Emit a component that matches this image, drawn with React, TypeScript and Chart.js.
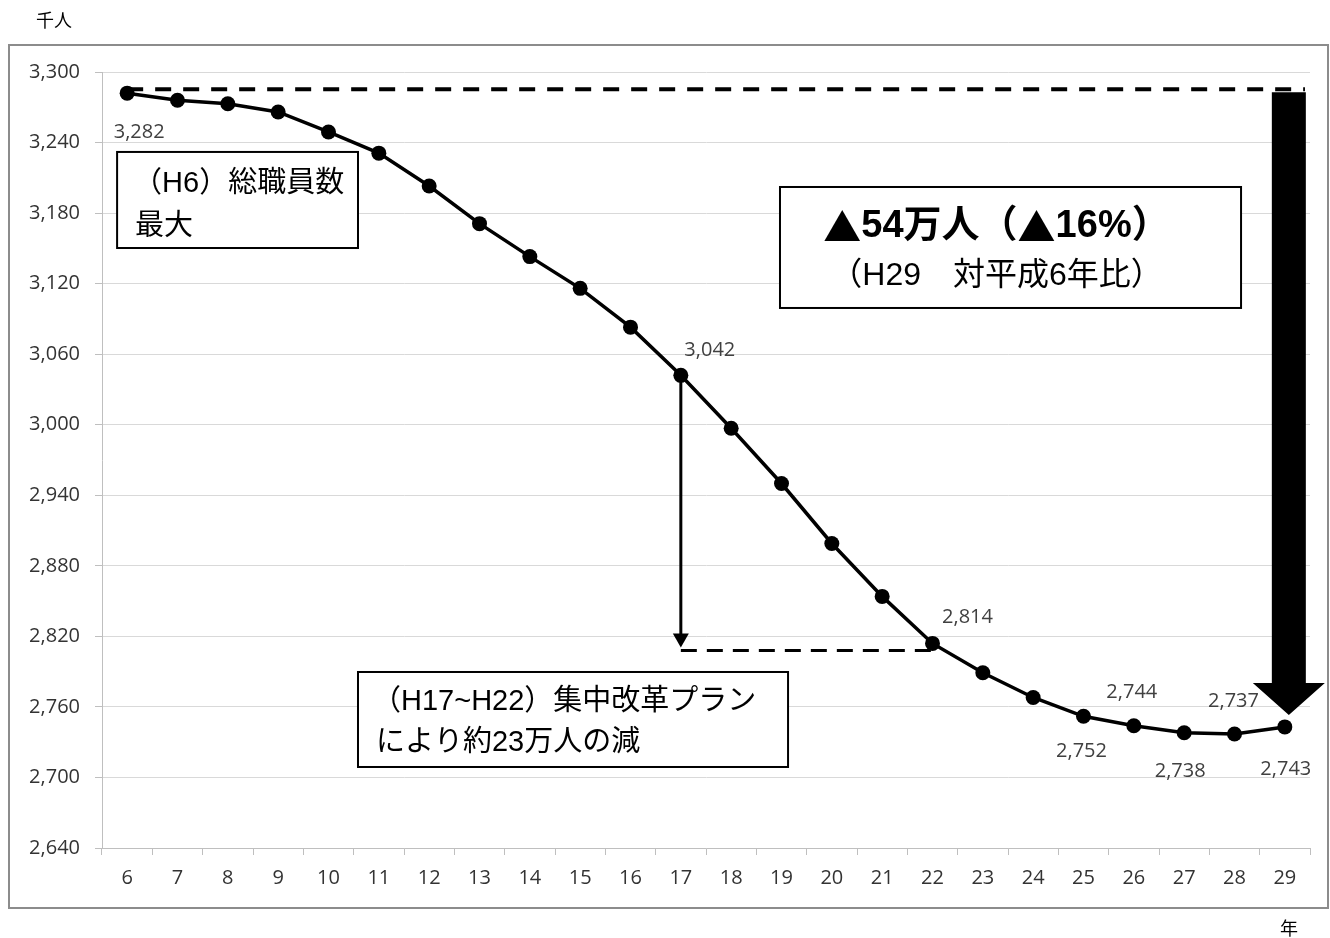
import React, { useEffect, useRef } from 'react';
import { Chart, registerables } from 'chart.js';

Chart.register(...registerables);

// ---- data ----
const years = ['6', '7', '8', '9', '10', '11', '12', '13', '14', '15', '16', '17', '18', '19', '20', '21', '22', '23', '24', '25', '26', '27', '28', '29'];
const staff = [3282, 3276, 3273, 3266, 3249, 3231, 3203, 3171, 3143, 3116, 3083, 3042, 2997, 2950, 2899, 2854, 2814, 2789, 2768, 2752, 2744, 2738, 2737, 2743];
const yMin = 2640;
const yMax = 3300;
const yStep = 60;
const labeledYears = ['6', '17', '22', '25', '26', '27', '28', '29'];
const unitY = '千人';
const unitX = '年';
const boxPeak = ['（H6）総職員数', '最大'];
const boxTotal = ['▲54万人（▲16%）', '（H29　対平成6年比）'];
const boxPlan = ['（H17~H22）集中改革プラン', 'により約23万人の減'];
const planStart = '17';
const planEnd = '22';

// label placement (dx, dy in px from point) for each labelled year
const labelOffsets: Record<string, [number, number]> = {
  '6': [12, 39],
  '17': [29, -25],
  '22': [35, -26],
  '25': [-2, 35],
  '26': [-2, -33],
  '27': [-4, 39],
  '28': [-1, -33],
  '29': [1, 42],
};

const fmt = (v: number) => v.toLocaleString('en-US');
const LATIN = "'Open Sans', Lato, sans-serif";
const JP = "'Liberation Sans', 'Noto Sans CJK JP', sans-serif";
const CJK = "'Noto Sans CJK JP', sans-serif";

// draw text where ▲ uses the CJK font (full-width), centred at cx
function drawMixed(ctx: CanvasRenderingContext2D, text: string, cx: number, y: number, size: number, weight: string) {
  const runs: { t: string; f: string }[] = [];
  for (const ch of Array.from(text)) {
    const f = ch === '▲' ? CJK : JP;
    const lastRun = runs[runs.length - 1];
    if (lastRun && lastRun.f === f) lastRun.t += ch;
    else runs.push({ t: ch, f });
  }
  let total = 0;
  const widths = runs.map((r) => {
    ctx.font = `${weight} ${size}px ${r.f}`;
    const w = ctx.measureText(r.t).width;
    total += w;
    return w;
  });
  let x = cx - total / 2;
  ctx.textAlign = 'left';
  runs.forEach((r, i) => {
    ctx.font = `${weight} ${size}px ${r.f}`;
    ctx.fillText(r.t, x, y);
    x += widths[i];
  });
}

const annotPlugin = {
  id: 'annot',
  beforeDatasetsDraw(chart: any) {
    const ctx = chart.ctx;
    const xs = chart.scales.x;
    const ys = chart.scales.y;
    const first = staff[0];
    const last = staff[staff.length - 1];
    const lastIdx = staff.length - 1;
    const iS = years.indexOf(planStart);
    const iE = years.indexOf(planEnd);
    ctx.save();
    // top dashed line at peak level
    ctx.strokeStyle = '#000';
    ctx.lineWidth = 4;
    ctx.setLineDash([16, 12]);
    const yPeak = ys.getPixelForValue(first) - 4;
    ctx.beginPath();
    ctx.moveTo(xs.getPixelForValue(0), yPeak);
    ctx.lineTo(xs.getPixelForValue(lastIdx + 0.4), yPeak);
    ctx.stroke();

    // dashed line at plan end level
    ctx.lineWidth = 3;
    ctx.setLineDash([16, 10]);
    const yEnd = ys.getPixelForValue(staff[iE]) + 7;
    ctx.beginPath();
    ctx.moveTo(xs.getPixelForValue(iS), yEnd);
    ctx.lineTo(xs.getPixelForValue(iE), yEnd);
    ctx.stroke();
    ctx.setLineDash([]);

    // thin vertical arrow from plan start down to plan end level
    const xa = xs.getPixelForValue(iS);
    const tip = yEnd - 3;
    ctx.lineWidth = 3;
    ctx.beginPath();
    ctx.moveTo(xa, ys.getPixelForValue(staff[iS]));
    ctx.lineTo(xa, tip - 12);
    ctx.stroke();
    ctx.fillStyle = '#000';
    ctx.beginPath();
    ctx.moveTo(xa - 8, tip - 14);
    ctx.lineTo(xa + 8, tip - 14);
    ctx.lineTo(xa, tip);
    ctx.closePath();
    ctx.fill();

    // big arrow from peak level down to last point
    const xc = xs.getPixelForValue(lastIdx) + 4;
    const top = yPeak + 3;
    const tipBig = ys.getPixelForValue(last) - 12;
    const headBase = tipBig - 32;
    ctx.beginPath();
    ctx.moveTo(xc - 17, top);
    ctx.lineTo(xc + 17, top);
    ctx.lineTo(xc + 17, headBase);
    ctx.lineTo(xc + 36, headBase);
    ctx.lineTo(xc, tipBig);
    ctx.lineTo(xc - 36, headBase);
    ctx.lineTo(xc - 17, headBase);
    ctx.closePath();
    ctx.fill();
    ctx.restore();
  },
  afterDatasetsDraw(chart: any) {
    const ctx = chart.ctx;
    const xs = chart.scales.x;
    const ys = chart.scales.y;
    ctx.save();

    const box = (x0: number, x1: number, v0: number, v1: number) => {
      const l = xs.getPixelForValue(x0);
      const r = xs.getPixelForValue(x1);
      const t = ys.getPixelForValue(v0);
      const b = ys.getPixelForValue(v1);
      ctx.fillStyle = '#fff';
      ctx.fillRect(l, t, r - l, b - t);
      ctx.strokeStyle = '#000';
      ctx.lineWidth = 2;
      ctx.strokeRect(l, t, r - l, b - t);
      return { l, r, t, b };
    };

    ctx.textBaseline = 'middle';

    const b1 = box(-0.2, 4.586, 3232, 3150.3);
    ctx.fillStyle = '#000';
    ctx.textAlign = 'left';
    ctx.font = `29px ${JP}`;
    ctx.fillText(boxPeak[0], b1.l + 16, b1.t + 32);
    ctx.fillText(boxPeak[1], b1.l + 18, b1.t + 75);

    const b2 = box(12.97, 22.13, 3202.2, 3099.3);
    ctx.fillStyle = '#000';
    const cx2 = (b2.l + b2.r) / 2 - 14;
    drawMixed(ctx, boxTotal[0], cx2, b2.t + 40, 38, 'bold');
    ctx.textAlign = 'center';
    ctx.font = `32px ${JP}`;
    ctx.fillText(boxTotal[1], cx2, b2.t + 89);

    const b3 = box(4.586, 13.13, 2789.7, 2708.9);
    ctx.fillStyle = '#000';
    ctx.textAlign = 'left';
    ctx.font = `29px ${JP}`;
    ctx.fillText(boxPlan[0], b3.l + 14, b3.t + 30);
    ctx.fillText(boxPlan[1], b3.l + 18, b3.t + 71);

    // data labels
    ctx.font = `20px ${LATIN}`;
    ctx.fillStyle = '#404040';
    ctx.textAlign = 'center';
    labeledYears.forEach((yr) => {
      const i = years.indexOf(yr);
      const off = labelOffsets[yr];
      ctx.fillText(fmt(staff[i]), xs.getPixelForValue(i) + off[0], ys.getPixelForValue(staff[i]) + off[1]);
    });
    ctx.restore();
  },
  afterDraw(chart: any) {
    const ctx = chart.ctx;
    const ca = chart.chartArea;
    ctx.save();
    ctx.strokeStyle = '#8c8c8c';
    ctx.lineWidth = 2;
    ctx.strokeRect(9, ca.top - 27, chart.width - 11, ca.bottom - ca.top + 87);
    ctx.fillStyle = '#000';
    ctx.font = `18px ${CJK}`;
    ctx.textBaseline = 'middle';
    ctx.textAlign = 'left';
    ctx.fillText(unitY, 36, 20);
    ctx.fillText(unitX, chart.width - 50, ca.bottom + 80);
    ctx.restore();
  },
};

export default function App() {
  const ref = useRef<HTMLCanvasElement | null>(null);
  useEffect(() => {
    if (!ref.current) return;
    const chart = new Chart(ref.current, {
      type: 'line',
      data: {
        labels: years,
        datasets: [
          {
            data: staff,
            borderColor: '#000',
            backgroundColor: '#000',
            borderWidth: 3.5,
            pointRadius: 7.5,
            pointBackgroundColor: '#000',
            pointBorderWidth: 0,
            tension: 0,
            clip: false as any,
          },
        ],
      },
      options: {
        animation: false,
        responsive: true,
        maintainAspectRatio: false,
        layout: { padding: { left: 0, right: 20, top: 72, bottom: 0 } },
        plugins: { legend: { display: false }, tooltip: { enabled: false } },
        scales: {
          x: {
            type: 'category',
            offset: true,
            afterFit: (s: any) => {
              s.height = 90;
            },
            grid: {
              display: true,
              drawOnChartArea: false,
              drawTicks: true,
              tickLength: 7,
              offset: true,
              color: '#bfbfbf',
            },
            border: { display: true, color: '#bfbfbf', width: 1 },
            ticks: { font: { family: LATIN, size: 20 }, color: '#333333', padding: 11, maxRotation: 0, autoSkip: false },
          },
          y: {
            type: 'linear',
            min: yMin,
            max: yMax,
            afterFit: (s: any) => {
              s.width = 102;
            },
            grid: { color: '#d9d9d9', tickLength: 7, tickColor: '#bfbfbf', lineWidth: 1 },
            border: { display: true, color: '#bfbfbf', width: 1 },
            ticks: {
              stepSize: yStep,
              font: { family: LATIN, size: 20 },
              color: '#333333',
              padding: 15,
              callback: (v: any) => fmt(Number(v)),
            },
          },
        },
      },
      plugins: [annotPlugin],
    });
    return () => chart.destroy();
  }, []);
  return (
    <div style={{ position: 'fixed', left: 0, top: 0, width: 1330, height: 938, background: '#fff' }}>
      <canvas ref={ref} />
    </div>
  );
}
